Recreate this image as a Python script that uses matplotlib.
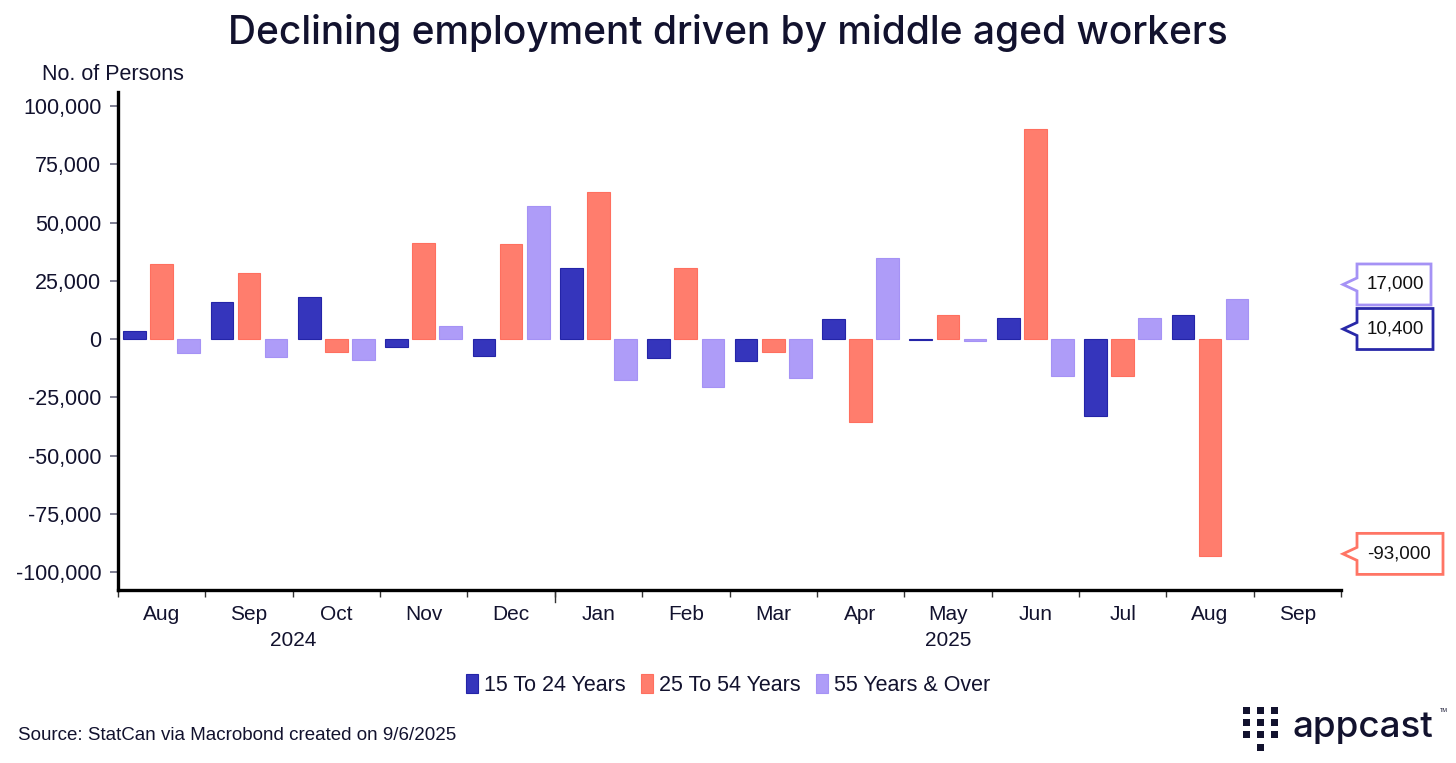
import numpy as np
import matplotlib
matplotlib.use("Agg")
import matplotlib.pyplot as plt
import matplotlib.transforms as mtransforms
from matplotlib.patches import Polygon, Rectangle
from matplotlib.ticker import FuncFormatter, FixedLocator

months = ["Aug", "Sep", "Oct", "Nov", "Dec", "Jan", "Feb", "Mar", "Apr", "May", "Jun", "Jul", "Aug", "Sep"]
years = ["2024", "2025"]
series_names = ["15 To 24 Years", "25 To 54 Years", "55 Years & Over"]
age_15_24 = [3600, 15900, 18000, -3400, -7300, 30300, -8300, -9400, 8400, -600, 8900, -33000, 10400, np.nan]
age_25_54 = [32000, 28500, -5500, 41300, 40800, 62900, 30300, -5700, -35700, 10200, 90000, -16000, -93000, np.nan]
age_55_over = [-5900, -7600, -8900, 5700, 57000, -17400, -20600, -16600, 34600, -1000, -15900, 9000, 17000, np.nan]

BLUE = "#3535BC"
RED = "#FF7D6D"
PURPLE = "#AE9CF8"
NAVY = "#12122E"

W, H = 1456, 763
fig = plt.figure(figsize=(W / 100, H / 100), dpi=100)
fig.patch.set_facecolor("white")
plt.rcParams["font.family"] = ["Liberation Sans", "DejaVu Sans"]

ax = fig.add_axes([118 / W, 1 - 590 / H, 1223 / W, 498 / H])

x = np.arange(len(months))
bw = 0.26
off = 0.31
ax.bar(x - off, age_15_24, bw, color=BLUE, edgecolor="#2424A8", linewidth=0.8, label=series_names[0])
ax.bar(x, age_25_54, bw, color=RED, edgecolor="#FF6F5F", linewidth=0.8, label=series_names[1])
ax.bar(x + off, age_55_over, bw, color=PURPLE, edgecolor="#A592F5", linewidth=0.8, label=series_names[2])

ax.set_xlim(-0.5, len(months) - 0.5)
ax.set_ylim(-107700, 106000)

for s in ["top", "right"]:
    ax.spines[s].set_visible(False)
ax.spines["left"].set_linewidth(2.4)
ax.spines["bottom"].set_linewidth(2.4)
ax.spines["left"].set_color("black")
ax.spines["bottom"].set_color("black")

ax.set_yticks(np.arange(-100000, 100001, 25000))
ax.yaxis.set_major_formatter(FuncFormatter(lambda v, p: f"{int(v):,}"))
ax.tick_params(axis="y", length=6, width=1.2, color="#6a6a80", pad=6, labelsize=15.5, labelcolor=NAVY)

# month boundary ticks, labels as minor ticks
ax.xaxis.set_major_locator(FixedLocator(np.arange(-0.5, len(months), 1.0)))
ax.xaxis.set_major_formatter(FuncFormatter(lambda v, p: ""))
ax.xaxis.set_minor_locator(FixedLocator(x))
ax.set_xticklabels(months, minor=True)
ax.tick_params(axis="x", which="major", length=5, width=1.0, color="#333")
ax.tick_params(axis="x", which="minor", length=0, pad=11, labelsize=15, labelcolor=NAVY)
# longer tick at year change
ax.plot([4.5, 4.5], [0, -0.025], transform=mtransforms.blended_transform_factory(ax.transData, ax.transAxes),
        color="#333", lw=1.0, clip_on=False)

ax.text(1.5, -0.102, years[0], transform=mtransforms.blended_transform_factory(ax.transData, ax.transAxes),
        ha="center", va="center", fontsize=15, color=NAVY)
ax.text(9, -0.102, years[1], transform=mtransforms.blended_transform_factory(ax.transData, ax.transAxes),
        ha="center", va="center", fontsize=15, color=NAVY)

fig.text(42 / W, 1 - 75 / H, "No. of Persons", ha="left", va="center", fontsize=15.5, color=NAVY)
fig.text(0.5, 1 - 33 / H, "Declining employment driven by middle aged workers", ha="center", va="center",
         fontsize=28, color=NAVY, family=["Inter", "DejaVu Sans"], fontweight="medium")

# callout labels at the right end
tr = mtransforms.blended_transform_factory(ax.transAxes, ax.transData)


def callout(text, mid, x1px, color, lw=2.0):
    x0 = (1357 - 118) / 1223
    x1 = (x1px - 118) / 1223
    tip = (1343 - 118) / 1223
    half = 8800
    notch = 2800
    pts = [(x0, mid + half), (x1, mid + half), (x1, mid - half), (x0, mid - half),
           (x0, mid - notch), (tip, mid), (x0, mid + notch)]
    ax.add_patch(Polygon(pts, closed=True, transform=tr, facecolor="white", edgecolor=color,
                         linewidth=lw, clip_on=False, joinstyle="miter"))
    ax.text((1367 - 118) / 1223, mid, text, transform=tr, ha="left", va="center", fontsize=13.5,
            color="#111", clip_on=False)


callout("17,000", 23400, 1431, "#A592F5")
callout("10,400", 4300, 1433, "#2828A8")
callout("-93,000", -92200, 1443, "#FF7565")

fig.legend(loc="center", bbox_to_anchor=(0.5, 1 - 685 / H), ncol=3, frameon=False, fontsize=15.5,
           handlelength=0.55, handleheight=1.0, handletextpad=0.3, columnspacing=0.7,
           labelcolor=NAVY)

fig.text(18 / W, 1 - 735 / H, "Source: StatCan via Macrobond created on 9/6/2025", ha="left", va="center",
         fontsize=13.5, color=NAVY)

# appcast logo
squares = [(1243, 707), (1257, 707), (1271, 707),
           (1243, 719), (1257, 719), (1271, 719),
           (1243, 731), (1257, 731), (1271, 731),
           (1257, 744)]
for sx, sy in squares:
    fig.add_artist(Rectangle((sx / W, 1 - (sy + 7) / H), 7 / W, 7 / H, transform=fig.transFigure,
                             facecolor=NAVY, edgecolor="none"))
fig.text(1292 / W, 1 - 737 / H, "appcast", ha="left", va="baseline", fontsize=26.5, color=NAVY,
         family=["Inter", "DejaVu Sans"], fontweight="medium")
fig.text(1440 / W, 1 - 711 / H, "TM", ha="left", va="center", fontsize=4, color=NAVY)

fig.savefig("out.png", dpi=100, facecolor="white")
